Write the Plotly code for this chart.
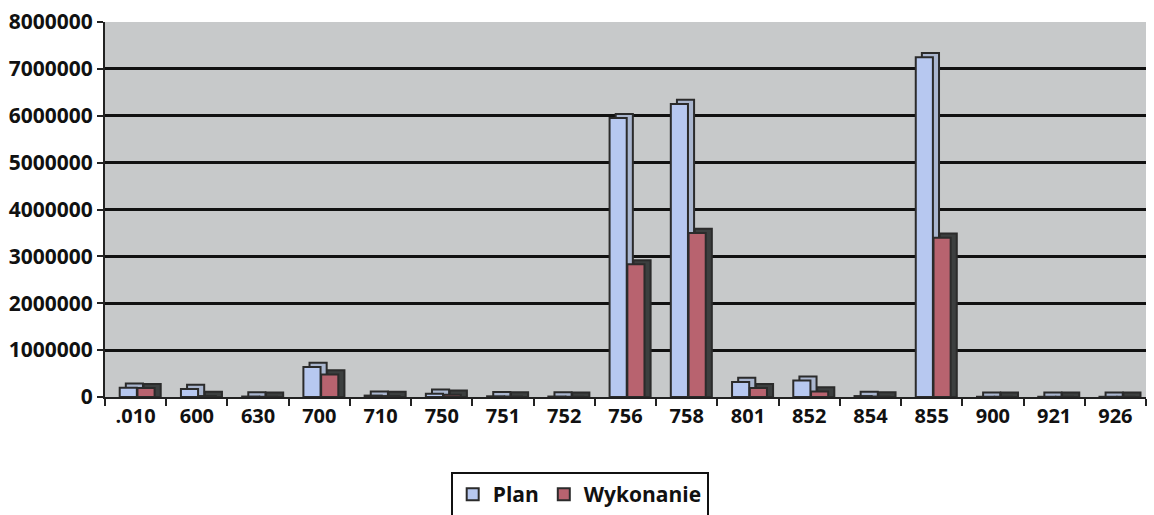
import plotly.graph_objects as go

categories = [".010", "600", "630", "700", "710", "750", "751", "752", "756",
              "758", "801", "852", "854", "855", "900", "921", "926"]
plan = [200000, 170000, 10000, 640000, 30000, 70000, 15000, 10000, 5950000,
        6250000, 320000, 350000, 20000, 7250000, 5000, 5000, 5000]
wykonanie = [190000, 20000, 5000, 480000, 20000, 50000, 10000, 5000, 2830000,
             3500000, 190000, 120000, 10000, 3400000, 5000, 5000, 5000]
y_ticks = [0, 1000000, 2000000, 3000000, 4000000, 5000000, 6000000, 7000000, 8000000]

font_family = "Open Sans"
depth_y = 90000       # 3D depth look (value units)
depth_x = 0.1         # 3D depth look (category units)
front_w = 0.28

plan_depth = [v + depth_y for v in plan]
wyk_depth = [v + depth_y for v in wykonanie]

fig = go.Figure()
fig.add_trace(go.Bar(
    x=categories, y=plan_depth, name="Plan-depth", showlegend=False,
    offset=-0.26 + depth_x, width=front_w,
    marker=dict(color="#aab6cf", line=dict(color="#2b2b2b", width=2)),
    hoverinfo="skip",
))
fig.add_trace(go.Bar(
    x=categories, y=plan, name="Plan",
    offset=-0.26, width=front_w,
    marker=dict(color="#b7c8f0", line=dict(color="#2b2b2b", width=2)),
))
fig.add_trace(go.Bar(
    x=categories, y=wyk_depth, name="Wyk-depth", showlegend=False,
    offset=0.03 + depth_x, width=front_w,
    marker=dict(color="#3c3f3f", line=dict(color="#2b2b2b", width=2)),
    hoverinfo="skip",
))
fig.add_trace(go.Bar(
    x=categories, y=wykonanie, name="Wykonanie",
    offset=0.03, width=front_w,
    marker=dict(color="#b8636f", line=dict(color="#2b2b2b", width=2)),
))

fig.update_layout(
    width=1154, height=515,
    margin=dict(l=105, r=8, t=22, b=118, autoexpand=False),
    paper_bgcolor="white",
    plot_bgcolor="#c7c9ca",
    barmode="overlay",
    font=dict(family=font_family, color="#111111", size=21),
    showlegend=True,
    legend=dict(
        orientation="h",
        x=0.456, xanchor="center",
        y=-0.2, yanchor="top",
        bordercolor="#111111", borderwidth=2,
        bgcolor="white",
        font=dict(family=font_family, size=21, color="#111111", weight="bold"),
        itemwidth=30,
        tracegroupgap=0,
    ),
)

fig.update_xaxes(
    type="category",
    automargin=False,
    showline=True, linecolor="#222222", linewidth=2,
    ticks="outside", ticklen=7, tickwidth=2, tickcolor="#222222",
    tickson="boundaries",
    tickfont=dict(family=font_family, size=20, color="#111111", weight="bold"),
    showgrid=False,
)
fig.update_yaxes(
    range=[0, 8000000],
    automargin=False,
    tickvals=y_ticks,
    tickformat="d",
    showline=True, linecolor="#222222", linewidth=2,
    ticks="outside", ticklen=6, tickwidth=2, tickcolor="#222222",
    showgrid=True, gridcolor="#111111", gridwidth=2.5,
    zeroline=False,
    tickfont=dict(family=font_family, size=21, color="#111111", weight="bold"),
)

fig.write_html("out.html", config={"displayModeBar": False},
               post_script="document.body.style.margin='0';")
